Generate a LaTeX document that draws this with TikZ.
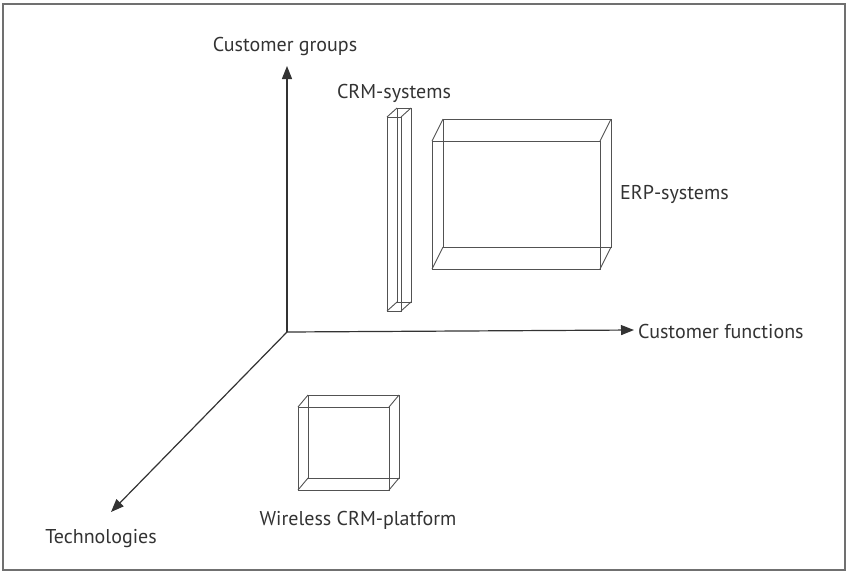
\documentclass[tikz,border=0pt]{standalone}
\usepackage{fontspec}
\setmainfont{PT Sans}
\usetikzlibrary{arrows.meta}
\definecolor{ink}{HTML}{333333}
\tikzset{
  axis/.style={draw=ink, line width=1.2pt, -{Triangle[length=13pt,width=10pt]}},
  boxline/.style={draw=ink!85, line width=0.9pt},
  lbl/.style={text=ink, font=\fontsize{20}{24}\selectfont, inner sep=0pt},
  frame/.style={draw=ink!70, line width=1.2pt}
}
\newcommand{\wbox}[6]{%
  \draw[boxline] (#1,#2) rectangle (#3,#4);
  \draw[boxline] ({#1+#5},{#2+#6}) rectangle ({#3+#5},{#4+#6});
  \draw[boxline] (#1,#2) -- ++(#5,#6) (#3,#2) -- ++(#5,#6)
                 (#1,#4) -- ++(#5,#6) (#3,#4) -- ++(#5,#6);
}
\begin{document}
\begin{tikzpicture}[x=1pt,y=-1pt]
\useasboundingbox (0,0) rectangle (848,574);
\draw[frame] (3,4) rectangle (845,570);
% axes
\coordinate (o) at (287,332);
\coordinate (ytip) at (287,66);
\coordinate (xtip) at (634,330);
\coordinate (ztip) at (111,512);
\draw[axis] (o) -- (ytip);
\draw[axis] (o) -- (xtip);
\draw[axis] (o) -- (ztip);
\node[lbl] (cg) at (285,46) {Customer groups};
\node[lbl, anchor=west] (cf) at (638,331) {Customer functions};
\node[lbl] (tech) at (101,539) {Technologies};
% boxes
\wbox{387}{117}{401}{311}{10}{-9}
\wbox{432}{141}{600}{269}{11}{-22}
\wbox{298}{407}{389}{490}{10}{-12}
\node[lbl] (crm) at (394,93) {CRM-systems};
\node[lbl, anchor=west] (erp) at (620,194) {ERP-systems};
\node[lbl] (wl) at (358,520) {Wireless CRM-platform};
\end{tikzpicture}
\end{document}
